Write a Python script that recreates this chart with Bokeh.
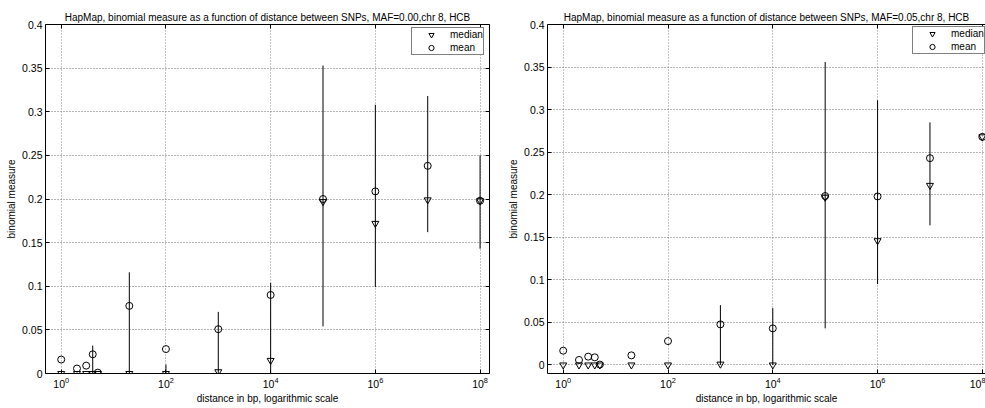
from bokeh.plotting import figure
from bokeh.models import (LogAxis, LinearAxis, FixedTicker, CustomJSTickFormatter,
                          Range1d, Legend, LegendItem)
from bokeh.layouts import row
from bokeh.embed import file_html
from bokeh.resources import INLINE

# ---------------- data ----------------
distance_bp = [1, 2, 3, 4, 5, 20, 100, 1000, 1e4, 1e5, 1e6, 1e7, 1e8]

maf00_median = [0, 0, 0, 0, 0, 0, 0, 0.002, 0.015, 0.197, 0.172, 0.199, 0.198]
maf00_mean = [0.016, 0.0057, 0.009, 0.022, 0.001, 0.0775, 0.028, 0.0508, 0.090, 0.200, 0.2087, 0.238, 0.198]
maf00_low = [0, 0, 0, 0, 0, 0, 0, 0, 0, 0.054, 0.099, 0.162, 0.143]
maf00_high = [0, 0, 0, 0.032, 0, 0.116, 0.0103, 0.0706, 0.1038, 0.353, 0.308, 0.318, 0.25]

maf05_median = [0, 0, 0, 0, 0, 0, 0, 0.001, 0, 0.197, 0.146, 0.211, 0.268]
maf05_mean = [0.0168, 0.0059, 0.0098, 0.009, 0.0005, 0.0113, 0.0281, 0.0477, 0.043, 0.1985, 0.198, 0.243, 0.268]
maf05_low = [0, 0, 0, 0, 0, 0, 0, 0, 0, 0.043, 0.095, 0.164, 0.268]
maf05_high = [0, 0, 0, 0, 0, 0, 0, 0.0703, 0.0668, 0.356, 0.311, 0.285, 0.268]

x_ticks = [1, 100, 1e4, 1e6, 1e8]
y_ticks = [0, 0.05, 0.1, 0.15, 0.2, 0.25, 0.3, 0.35, 0.4]

title_00 = "HapMap, binomial measure as a function of distance between SNPs, MAF=0.00,chr 8, HCB"
title_05 = "HapMap, binomial measure as a function of distance between SNPs, MAF=0.05,chr 8, HCB"
x_label = "distance in bp, logarithmic scale"
y_label = "binomial measure"

FONT = "Liberation Sans"


def style_axis(ax, show_labels=True):
    ax.major_tick_in = 4
    ax.major_tick_out = 0
    ax.minor_tick_in = 0
    ax.minor_tick_out = 0
    ax.axis_line_color = "black"
    ax.major_tick_line_color = "black"
    ax.major_label_text_font = FONT
    ax.major_label_text_color = "black"
    ax.axis_label_text_font = FONT
    ax.axis_label_text_font_style = "normal"
    ax.axis_label_text_font_size = "10px"
    ax.axis_label_text_color = "black"
    if show_labels:
        ax.major_label_text_font_size = "10.5px"
        ax.major_label_standoff = 3
        ax.axis_label_standoff = 2
    else:
        ax.major_label_text_font_size = "1px"
        ax.major_label_standoff = 0


def make_plot(title, median, mean, low, high, y_start, width, border_right, x_end, right_axis):
    p = figure(width=width, height=408, x_axis_type="log",
               x_range=Range1d(10 ** -0.3, x_end), y_range=Range1d(y_start, 0.4),
               output_backend="svg", toolbar_location=None,
               min_border_left=45, min_border_right=border_right,
               min_border_top=24, min_border_bottom=35)
    p.outline_line_color = None
    p.background_fill_color = "white"
    p.border_fill_color = "white"

    p.title.text = title
    p.title.align = "center"
    p.title.text_font = FONT
    p.title.text_font_size = "10px"
    p.title.text_font_style = "normal"
    p.title.text_color = "black"
    p.title.standoff = 3

    xt = FixedTicker(ticks=x_ticks, minor_ticks=[])
    yt = FixedTicker(ticks=y_ticks, minor_ticks=[])
    yfmt = CustomJSTickFormatter(code="return String(Math.round(tick*100)/100)")
    blank = CustomJSTickFormatter(code="return ''")

    p.xaxis.ticker = xt
    p.yaxis.ticker = yt
    p.yaxis.formatter = yfmt
    p.xaxis.axis_label = x_label
    p.yaxis.axis_label = y_label
    style_axis(p.xaxis[0])
    style_axis(p.yaxis[0])

    top = LogAxis(ticker=xt, formatter=blank)
    style_axis(top, show_labels=False)
    p.add_layout(top, "above")
    if right_axis:
        rax = LinearAxis(ticker=yt, formatter=blank)
        style_axis(rax, show_labels=False)
        p.add_layout(rax, "right")

    p.xgrid.grid_line_color = "#8a8a8a"
    p.xgrid.grid_line_dash = "1 2"
    p.ygrid.grid_line_color = "#6a6a6a"
    p.ygrid.grid_line_dash = "1 2"

    p.segment(x0=distance_bp, y0=low, x1=distance_bp, y1=high,
              line_color="black", line_width=1)
    r_med = p.scatter(distance_bp, median, marker="inverted_triangle", size=7,
                      fill_color=None, line_color="black", line_width=1)
    r_mean = p.scatter(distance_bp, mean, marker="circle", size=7,
                       fill_color=None, line_color="black", line_width=1)
    return p, r_med, r_mean


def add_legend(p, r_med, r_mean, loc):
    leg = Legend(items=[LegendItem(label="median", renderers=[r_med]),
                        LegendItem(label="mean", renderers=[r_mean])],
                 location=loc, glyph_width=38, glyph_height=13, label_height=13,
                 label_standoff=0, padding=0, spacing=0, margin=0,
                 border_line_color="black", border_line_width=1,
                 background_fill_color="white", background_fill_alpha=1,
                 label_text_font=FONT, label_text_font_size="10px",
                 label_text_color="black")
    p.add_layout(leg, "center")


p1, m1, a1 = make_plot(title_00, maf00_median, maf00_mean, maf00_low, maf00_high,
                       0, 502, 13, 10 ** 8.18, True)
add_legend(p1, m1, a1, (366, 318))

p2, m2, a2 = make_plot(title_05, maf05_median, maf05_mean, maf05_low, maf05_high,
                       -0.01, 483, 0, 10 ** 8.06, False)
add_legend(p2, m2, a2, (365, 319))

layout = row(p1, p2, spacing=0)
open("out.html", "w").write(file_html(layout, INLINE))
